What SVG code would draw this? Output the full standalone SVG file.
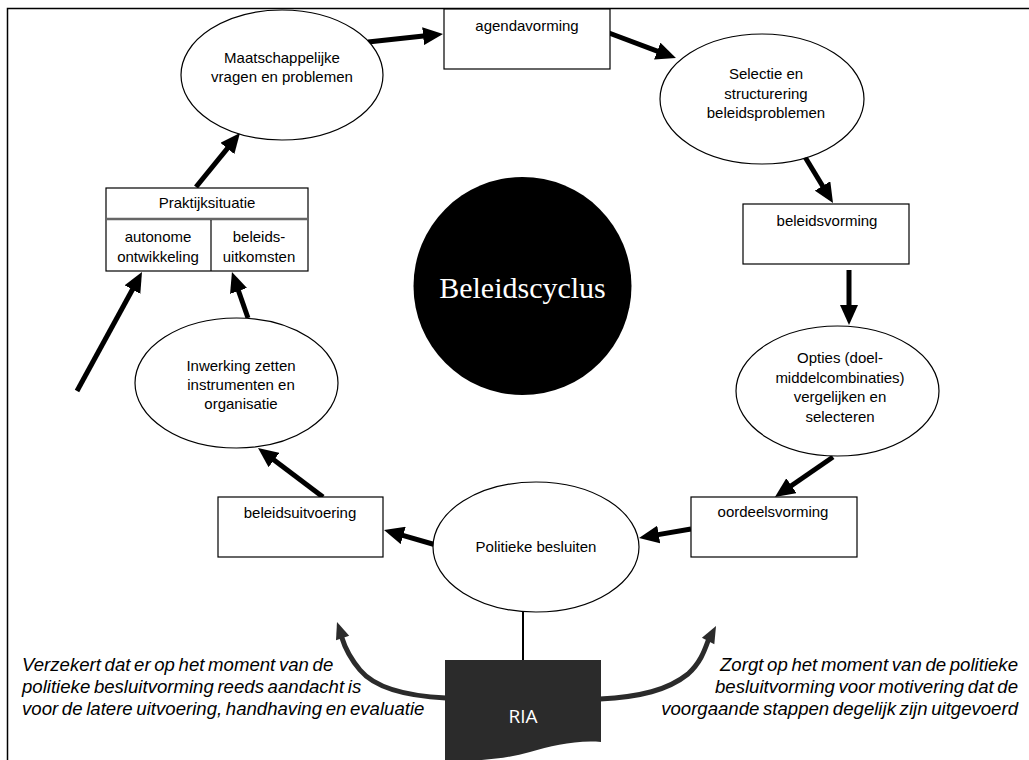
<svg xmlns="http://www.w3.org/2000/svg" width="1029" height="760" viewBox="0 0 1029 760">
<style>
.n{fill:#fff;stroke:#000;stroke-width:1.2}
.t{font-family:"Liberation Sans",Arial,sans-serif;font-size:15px;fill:#000;text-anchor:middle}
.c{stroke:#000;stroke-width:5;fill:none;marker-end:url(#ah)}
.note{font-family:"Liberation Sans",Arial,sans-serif;font-size:18.6px;font-style:italic;fill:#000;word-spacing:-1.5px}
.r{text-anchor:end}
.brush{stroke:#2b2b2b;stroke-width:5;fill:none;stroke-linecap:round}
</style>
<defs>
<marker id="ah" markerUnits="userSpaceOnUse" markerWidth="20" markerHeight="18" viewBox="0 0 20 18" refX="5" refY="9" orient="auto">
<path d="M0,0 L20,9 L0,18 z" fill="#000"/>
</marker>
</defs>
<rect width="1029" height="760" fill="#fff"/>
<rect x="7.5" y="8.5" width="1100" height="800" fill="none" stroke="#000" stroke-width="1.5"/>

<g id="connectors">
<line class="c" x1="368" y1="42" x2="428.1" y2="35.6"/>
<line class="c" x1="609" y1="33" x2="661.9" y2="52.8"/>
<line class="c" x1="805" y1="157" x2="825.2" y2="190.2"/>
<line class="c" x1="849" y1="270" x2="849" y2="310"/>
<line class="c" x1="833" y1="457" x2="787.3" y2="488.5"/>
<line class="c" x1="691" y1="529" x2="653.8" y2="535.4"/>
<line class="c" x1="436" y1="545" x2="398.4" y2="534.1"/>
<line class="c" x1="323" y1="497" x2="270" y2="457"/>
<line class="c" x1="248" y1="318" x2="236.9" y2="286.2"/>
<line class="c" x1="77" y1="391" x2="134.8" y2="285.2"/>
<line class="c" x1="196" y1="187" x2="230.5" y2="144.6"/>
<line x1="523" y1="612" x2="523" y2="662" stroke="#000" stroke-width="2"/>
<path class="brush" d="M446,698 C405,696 375,688 360,670 C350,658 345,648 342,638"/>
<polygon points="337,622 349.2,635.7 336,640.3" fill="#2b2b2b"/>
<path class="brush" d="M600,699 C640,697 668,690 688,674 C700,663 704,652 708,641"/>
<polygon points="716,626 714.3,644.3 701.9,637.7" fill="#2b2b2b"/>
</g>

<g id="maatschappelijke">
<ellipse class="n" cx="282" cy="75" rx="101" ry="65"/>
<text class="t" x="282" y="63">Maatschappelijke</text>
<text class="t" x="282" y="82">vragen en problemen</text>
</g>

<g id="agendavorming">
<rect class="n" x="444" y="9" width="166" height="60"/>
<text class="t" x="527" y="31">agendavorming</text>
</g>

<g id="selectie">
<ellipse class="n" cx="762" cy="99" rx="102" ry="65"/>
<text class="t" x="766" y="79">Selectie en</text>
<text class="t" x="766" y="99">structurering</text>
<text class="t" x="766" y="118">beleidsproblemen</text>
</g>

<g id="beleidsvorming">
<rect class="n" x="743" y="204" width="166" height="60"/>
<text class="t" x="827" y="226">beleidsvorming</text>
</g>

<g id="opties">
<ellipse class="n" cx="837.5" cy="391" rx="101.5" ry="65"/>
<text class="t" x="840" y="363">Opties (doel-</text>
<text class="t" x="840" y="383">middelcombinaties)</text>
<text class="t" x="840" y="402">vergelijken en</text>
<text class="t" x="840" y="422">selecteren</text>
</g>

<g id="oordeelsvorming">
<rect class="n" x="691" y="497" width="166" height="60"/>
<text class="t" x="773" y="517">oordeelsvorming</text>
</g>

<g id="politieke">
<ellipse class="n" cx="536" cy="547" rx="103" ry="65"/>
<text class="t" x="536" y="552">Politieke besluiten</text>
</g>

<g id="beleidsuitvoering">
<rect class="n" x="218" y="497" width="165" height="60"/>
<text class="t" x="300" y="518">beleidsuitvoering</text>
</g>

<g id="inwerking">
<ellipse class="n" cx="236.5" cy="383" rx="101.5" ry="65"/>
<text class="t" x="241" y="371">Inwerking zetten</text>
<text class="t" x="241" y="390">instrumenten en</text>
<text class="t" x="241" y="409">organisatie</text>
</g>

<g id="praktijksituatie">
<rect class="n" x="106" y="188" width="202" height="83"/>
<line x1="106" y1="219" x2="308" y2="219" stroke="#666" stroke-width="2.5"/>
<line x1="211" y1="220" x2="211" y2="271" stroke="#000" stroke-width="1.2"/>
<text class="t" x="207" y="208">Praktijksituatie</text>
<text class="t" x="158" y="242">autonome</text>
<text class="t" x="158" y="262">ontwikkeling</text>
<text class="t" x="259" y="242">beleids-</text>
<text class="t" x="259" y="262">uitkomsten</text>
</g>

<g id="beleidscyclus">
<circle cx="522.5" cy="286" r="109" fill="#000"/>
<text x="522.5" y="298" font-family="'Liberation Serif','Times New Roman',serif" font-size="30" fill="#fff" text-anchor="middle">Beleidscyclus</text>
</g>

<g id="ria">
<path d="M445,660 H601 V742 C575,740 552,746 530,752 C505,759 475,762 445,760 Z" fill="#2b2b2b"/>
<text x="523" y="723" font-family="'Open Sans','Liberation Sans',sans-serif" font-size="19" fill="#fff" text-anchor="middle">RIA</text>
</g>

<g id="note-left">
<text class="note" x="22" y="671">Verzekert dat er op het moment van de</text>
<text class="note" x="22" y="693">politieke besluitvorming reeds aandacht is</text>
<text class="note" x="22" y="715">voor de latere uitvoering, handhaving en evaluatie</text>
</g>

<g id="note-right">
<text class="note r" x="1018" y="671">Zorgt op het moment van de politieke</text>
<text class="note r" x="1018" y="693">besluitvorming voor motivering dat de</text>
<text class="note r" x="1018" y="715">voorgaande stappen degelijk zijn uitgevoerd</text>
</g>
</svg>
